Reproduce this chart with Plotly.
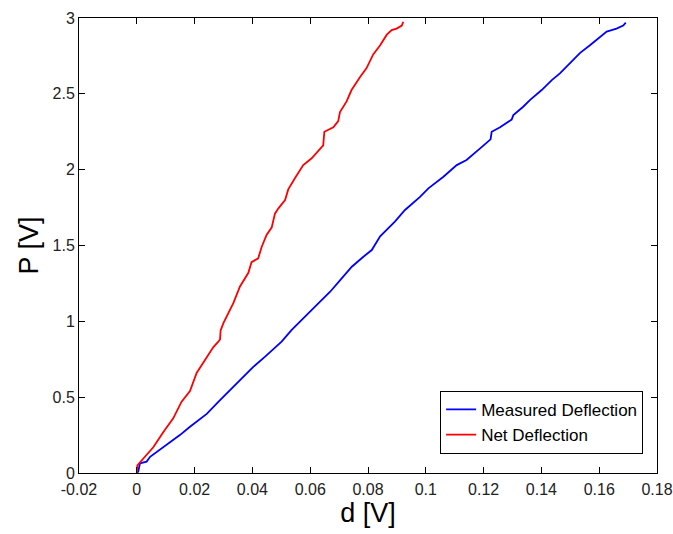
import plotly.graph_objects as go

# Measured Deflection (blue)
measured_d = [0.0, 0.0005, 0.0011, 0.0034, 0.0046, 0.0092, 0.0149, 0.0184, 0.0242, 0.0288,
              0.0346, 0.0403, 0.0444, 0.0501, 0.0536, 0.0588, 0.0634, 0.0669, 0.0703, 0.0744,
              0.0784, 0.0813, 0.0842, 0.0893, 0.0928, 0.0980, 0.1009, 0.1061, 0.1107, 0.1141,
              0.1188, 0.1216, 0.1224, 0.1228, 0.1257, 0.1297, 0.1303, 0.1337, 0.1361, 0.1401,
              0.1436, 0.1464, 0.1499, 0.1534, 0.1568, 0.1597, 0.1626, 0.1643, 0.1660, 0.1683,
              0.1692]
measured_P = [0.0, 0.01, 0.064, 0.075, 0.107, 0.17, 0.25, 0.305, 0.39, 0.48,
              0.59, 0.70, 0.767, 0.866, 0.943, 1.04, 1.13, 1.195, 1.27, 1.36,
              1.426, 1.47, 1.56, 1.657, 1.734, 1.82, 1.877, 1.953, 2.03, 2.064,
              2.14, 2.185, 2.20, 2.25, 2.28, 2.33, 2.36, 2.415, 2.46, 2.525,
              2.59, 2.635, 2.70, 2.77, 2.82, 2.866, 2.91, 2.92, 2.93, 2.95,
              2.97]

# Net Deflection (red)
net_d = [0.0, 0.0, 0.0002, 0.0028, 0.0057, 0.0092, 0.0126, 0.0155, 0.0184, 0.0207,
         0.0236, 0.0265, 0.0282, 0.0288, 0.0290, 0.0300, 0.0334, 0.0357, 0.0386, 0.0397,
         0.0420, 0.0432, 0.0449, 0.0467, 0.0478, 0.0490, 0.0513, 0.0524, 0.0547, 0.0576,
         0.0605, 0.0628, 0.0645, 0.0649, 0.0680, 0.0697, 0.0703, 0.0726, 0.0743, 0.0772,
         0.0795, 0.0818, 0.0842, 0.0865, 0.0882, 0.0899, 0.0917, 0.0922]
net_P = [0.0, 0.03, 0.05, 0.107, 0.17, 0.27, 0.36, 0.47, 0.54, 0.66,
         0.745, 0.83, 0.866, 0.88, 0.94, 0.99, 1.12, 1.23, 1.32, 1.39,
         1.415, 1.49, 1.57, 1.62, 1.71, 1.745, 1.80, 1.87, 1.943, 2.03,
         2.075, 2.12, 2.16, 2.25, 2.28, 2.32, 2.38, 2.45, 2.525, 2.61,
         2.67, 2.76, 2.82, 2.89, 2.92, 2.93, 2.95, 2.975]

x_ticks = [-0.02, 0, 0.02, 0.04, 0.06, 0.08, 0.1, 0.12, 0.14, 0.16, 0.18]
x_tick_text = ["-0.02", "0", "0.02", "0.04", "0.06", "0.08", "0.1", "0.12", "0.14", "0.16", "0.18"]
y_ticks = [0, 0.5, 1, 1.5, 2, 2.5, 3]
y_tick_text = ["0", "0.5", "1", "1.5", "2", "2.5", "3"]

FONT = "Liberation Sans, Arial, sans-serif"

fig = go.Figure()
fig.add_trace(go.Scatter(x=measured_d, y=measured_P, mode="lines", name="Measured Deflection",
                         line=dict(color="#0000FF", width=1.8)))
fig.add_trace(go.Scatter(x=net_d, y=net_P, mode="lines", name="Net Deflection",
                         line=dict(color="#FF0000", width=1.8)))

axis_common = dict(showgrid=False, zeroline=False, showline=True, linecolor="black", linewidth=1,
                   mirror="ticks", ticks="inside", ticklen=6, tickcolor="black", tickwidth=1,
                   automargin=False,
                   tickfont=dict(family=FONT, size=16, color="#222"))

fig.update_xaxes(range=[-0.02, 0.18], tickvals=x_ticks, ticktext=x_tick_text,
                 ticklabelstandoff=2,
                 title=dict(text="d [V]", font=dict(family=FONT, size=27, color="black"), standoff=4),
                 **axis_common)
fig.update_yaxes(range=[0, 3], tickvals=y_ticks, ticktext=y_tick_text,
                 ticklabelstandoff=0,
                 title=dict(text="P [V]", font=dict(family=FONT, size=27, color="black"), standoff=6),
                 **axis_common)

fig.update_layout(
    width=673, height=534,
    margin=dict(l=79, r=16, t=18, b=61, autoexpand=False),
    paper_bgcolor="white", plot_bgcolor="white",
    showlegend=True,
    legend=dict(x=0.976, y=0.042, xanchor="right", yanchor="bottom",
                bordercolor="black", borderwidth=1, bgcolor="white",
                font=dict(family=FONT, size=17, color="black"),
                tracegroupgap=0, itemwidth=30),
)

fig.write_html("out.html")
